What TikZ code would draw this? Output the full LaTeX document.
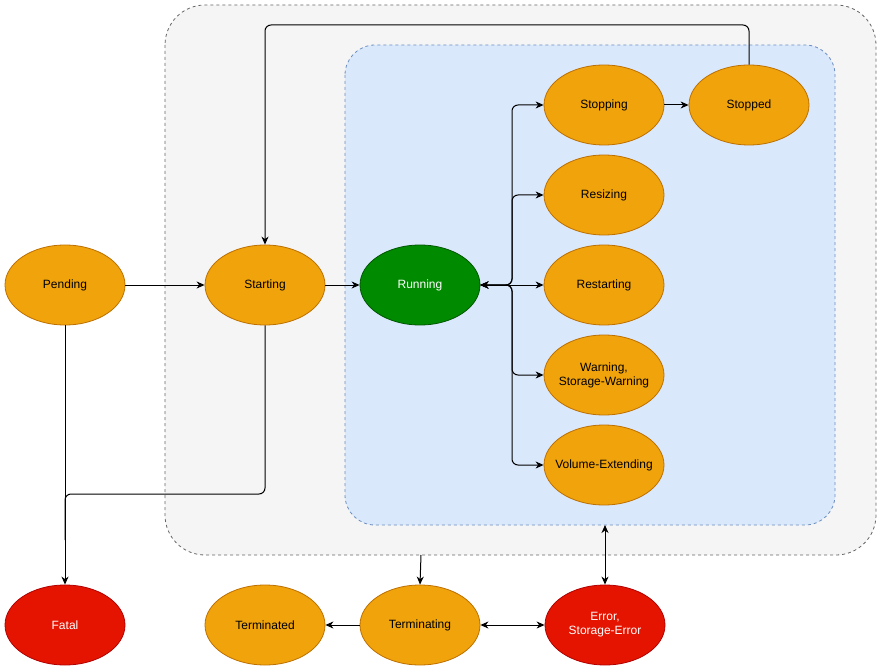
\documentclass[tikz,border=0pt]{standalone}
\usepackage{fontspec}
\setmainfont{Liberation Sans}
\usetikzlibrary{shapes.geometric,arrows.meta}
\definecolor{orfill}{HTML}{F0A30A}
\definecolor{ordraw}{HTML}{BD7000}
\definecolor{grfill}{HTML}{008A00}
\definecolor{grdraw}{HTML}{005700}
\definecolor{rdfill}{HTML}{E51400}
\definecolor{rddraw}{HTML}{B20000}
\definecolor{outfill}{HTML}{F5F5F5}
\definecolor{outdraw}{HTML}{666666}
\definecolor{infill}{HTML}{DAE8FC}
\definecolor{indraw}{HTML}{6C8EBF}
\tikzset{
  st/.style={ellipse, minimum width=120pt, minimum height=80pt, inner xsep=-20pt, inner ysep=0pt, line width=0.8pt,
    font=\fontsize{12}{14}\selectfont, align=center},
  orst/.style={st, fill=orfill, draw=ordraw, text=black},
  grst/.style={st, fill=grfill, draw=grdraw, text=white},
  rdst/.style={st, fill=rdfill, draw=rddraw, text=white},
  conn/.style={line width=1pt, rounded corners=6pt, -{Stealth[length=8pt,width=7pt,inset=2.5pt]}},
  bconn/.style={line width=1pt, rounded corners=6pt, {Stealth[length=8pt,width=7pt,inset=2.5pt]}-{Stealth[length=8pt,width=7pt,inset=2.5pt]}},
}
\begin{document}
\begin{tikzpicture}[x=1pt,y=-1pt]
\useasboundingbox (0,0) rectangle (881,671);
% containers
\draw[fill=outfill, draw=outdraw, dashed, line width=0.8pt, rounded corners=40pt] (165,5) rectangle (876,555);
\coordinate (outbot) at (421,555);
\draw[fill=infill, draw=indraw, dashed, line width=0.8pt, rounded corners=30pt] (345,45) rectangle (835,525);
\coordinate (inbot) at (605,525);
% states
\node[orst] (pending) at (65,285) {Pending};
\node[orst] (starting) at (265,285) {Starting};
\node[grst] (running) at (420,285) {Running};
\node[orst] (stopping) at (604,105) {Stopping};
\node[orst] (stopped) at (749,105) {Stopped};
\node[orst] (resizing) at (604,195) {Resizing};
\node[orst] (restarting) at (604,285) {Restarting};
\node[orst] (warning) at (604,375) {Warning,\\Storage-Warning};
\node[orst] (volext) at (604,465) {Volume-Extending};
\node[rdst] (fatal) at (65,625) {Fatal};
\node[orst] (terminated) at (265,625) {Terminated};
\node[orst] (terminating) at (420,625) {Terminating};
\node[rdst] (error) at (605,625) {Error,\\Storage-Error};
% connectors
\draw[conn] (pending) -- (starting);
\draw[conn] (starting) -- (running);
\draw[bconn] (running.east) -- (512,285) |- (stopping.west);
\draw[bconn] (running.east) -- (512,285) |- (resizing.west);
\draw[bconn] (running.east) -- (restarting.west);
\draw[bconn] (running.east) -- (512,285) |- (warning.west);
\draw[bconn] (running.east) -- (512,285) |- (volext.west);
\draw[conn] (stopping) -- (stopped);
\draw[conn] (stopped.north) |- (265,25) -- (starting.north);
\draw[conn] (pending.south) -- (fatal.north);
\draw[line width=1pt, rounded corners=6pt] (starting.south) |- (65,494) -- (65,540);
\draw[conn] (outbot) -- (terminating.north);
\draw[bconn] (inbot) -- (error.north);
\draw[conn] (terminating) -- (terminated);
\draw[bconn] (terminating) -- (error);
\end{tikzpicture}
\end{document}
